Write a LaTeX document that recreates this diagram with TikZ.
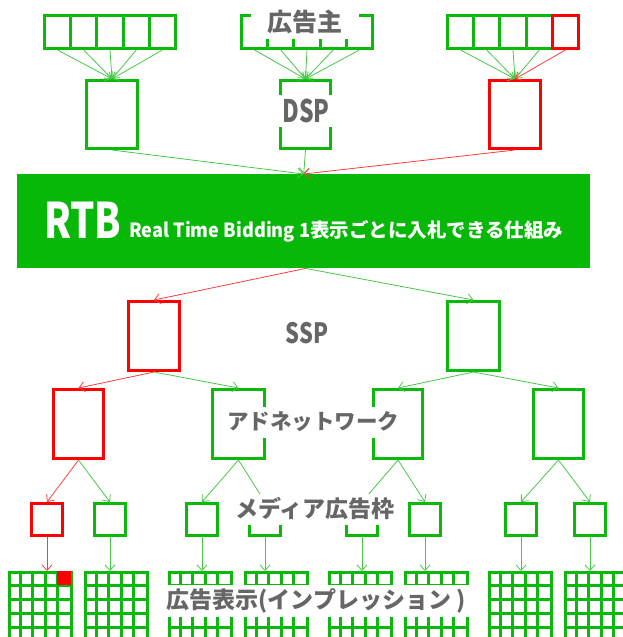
\documentclass[tikz,border=0pt]{standalone}
\usepackage{fontspec}
\usetikzlibrary{arrows.meta}
\newfontfamily\jp{Noto Sans CJK JP}
\definecolor{cGreen}{RGB}{10,185,10}
\definecolor{cLine}{RGB}{70,200,70}
\definecolor{cRed}{RGB}{255,0,0}
\definecolor{cLRed}{RGB}{255,60,60}
\definecolor{cRtb}{RGB}{8,184,8}
\definecolor{cGray}{RGB}{102,102,102}
\tikzset{
  box/.style={draw=cGreen, line width=3pt, inner sep=0, anchor=north west},
  redbox/.style={box, draw=cRed},
  arr/.style={draw=cLine, line width=0.8pt, -{Straight Barb[length=5.5pt,width=10pt]}},
  arrR/.style={arr, draw=cLRed},
  gridline/.style={draw=cGreen, line width=3pt},
  lbl/.style={fill=white, text=cGray, inner sep=0, font=\jp\bfseries},
}
\begin{document}
\begin{tikzpicture}[x=1pt,y=-1pt]
\useasboundingbox (0,0) rectangle (622,637);

% advertisers
\foreach \gx [count=\g] in {43,240,446} {
  \foreach \c in {0,...,4} {
    \node[box, minimum width=26.2pt, minimum height=33pt] (t\g-\c) at ({\gx+26.2*\c},14) {};
  }
}
\node[redbox, minimum width=26.2pt, minimum height=33pt] (t3-4) at ({446+26.2*4},14) {};

% DSP boxes
\node[box, minimum width=51pt, minimum height=68pt] (d1) at (85,79) {};
\node[box, minimum width=50pt, minimum height=68pt] (d2) at (279,79) {};
\node[redbox, minimum width=51pt, minimum height=68pt] (d3) at (488,79) {};

\foreach \g in {1,2,3} {
  \foreach \c in {0,...,3} { \draw[arr] (t\g-\c.south) -- (d\g.north); }
}
\draw[arr] (t1-4.south) -- (d1.north);
\draw[arr] (t2-4.south) -- (d2.north);
\draw[arrR] (t3-4.south) -- (d3.north);

% RTB
\node[fill=cRtb, inner sep=0, anchor=north west, minimum width=573pt, minimum height=94pt] (rtb) at (17,174) {};
\node[anchor=base west, text=white, inner sep=0, font=\jp\bfseries] (rtbname) at (44,238)
  {\scalebox{0.78}[1]{\fontsize{49}{49}\selectfont RTB}};
\node[anchor=base west, text=white, inner sep=0, font=\jp\bfseries\fontsize{19.5}{19.5}\selectfont] (rtbdesc) at (129,237)
  {\scalebox{0.93}[1]{Real Time Bidding 1}表示ごとに入札できる仕組み};

\draw[arr] (d1.south) -- (rtb.north);
\draw[arr] (d2.south) -- (rtb.north);
\draw[arrR] (d3.south) -- (rtb.north);

% SSP
\node[redbox, minimum width=51pt, minimum height=69pt] (s1) at (127,300) {};
\node[box, minimum width=52pt, minimum height=69pt] (s2) at (446,300) {};
\draw[arrR] ([xshift=2pt]rtb.south) -- (s1.north);
\draw[arr] ([xshift=2pt]rtb.south) -- (s2.north);

% ad networks
\node[redbox, minimum width=50pt, minimum height=69pt] (n1) at (52,388) {};
\node[box, minimum width=52pt, minimum height=69pt] (n2) at (211,388) {};
\node[box, minimum width=49pt, minimum height=69pt] (n3) at (372,388) {};
\node[box, minimum width=50pt, minimum height=69pt] (n4) at (532,388) {};
\draw[arrR] (s1.south) -- (n1.north);
\draw[arr] (s1.south) -- (n2.north);
\draw[arr] (s2.south) -- (n3.north);
\draw[arr] (s2.south) -- (n4.north);

% media slots
\foreach \mx [count=\i] in {30,93,185,248,345,408,504,573} {
  \node[box, minimum width=31pt, minimum height=32pt] (m\i) at (\mx,502) {};
}
\node[redbox, minimum width=31pt, minimum height=32pt] (m1) at (30,502) {};
\draw[arrR] (n1.south) -- (m1.north);
\draw[arr] (n1.south) -- (m2.north);
\draw[arr] (n2.south) -- (m3.north);
\draw[arr] (n2.south) -- (m4.north);
\draw[arr] (n3.south) -- (m5.north);
\draw[arr] (n3.south) -- (m6.north);
\draw[arr] (n4.south) -- (m7.north);
\draw[arr] (n4.south) -- (m8.north);

% impression grids
\foreach \gx [count=\i] in {8,84,168,244,328,404,488,564} {
  \node[box, minimum width=62pt, minimum height=80pt] (g\i) at (\gx,571) {};
  \foreach \k in {1,...,4} { \draw[gridline] ({\gx+12.4*\k},571) -- ++(0,80); }
  \foreach \r in {1,...,5} { \draw[gridline] (\gx,{571+14*\r}) -- ++(62,0); }
}
\node[fill=cRed, draw=cRed, line width=1pt, inner sep=0, anchor=north west, minimum width=13pt, minimum height=13pt] (hit) at (57,571) {};

\draw[arrR] (m1.south) -- (m1.south |- g1.north);
\foreach \i in {2,...,8} { \draw[arr] (m\i.south) -- (m\i.south |- g\i.north); }

% labels
\node[lbl, minimum width=108pt, minimum height=34pt, font=\jp\bfseries\fontsize{25}{25}\selectfont] (lAdv) at (305,22) {広告主};
\node[lbl, minimum width=103pt, minimum height=32pt, font=\jp\bfseries\fontsize{31}{31}\selectfont] (lDsp) at (306,111) {\scalebox{0.74}[1]{DSP}};
\node[lbl, font=\jp\bfseries\fontsize{28}{28}\selectfont] (lSsp) at (307,333) {\scalebox{0.78}[1]{SSP}};
\node[lbl, minimum width=175pt, minimum height=31pt, font=\jp\bfseries\fontsize{21.5}{21.5}\selectfont] (lNet) at (313,422) {アドネットワーク};
\node[lbl, minimum width=184pt, minimum height=31pt, font=\jp\bfseries\fontsize{23}{23}\selectfont] (lMedia) at (315,509) {メディア広告枠};
\node[lbl, minimum width=326pt, minimum height=32pt, font=\jp\bfseries\fontsize{23}{23}\selectfont] (lImp) at (316,601) {広告表示(インプレッション\hspace{5pt})};
\end{tikzpicture}
\end{document}
